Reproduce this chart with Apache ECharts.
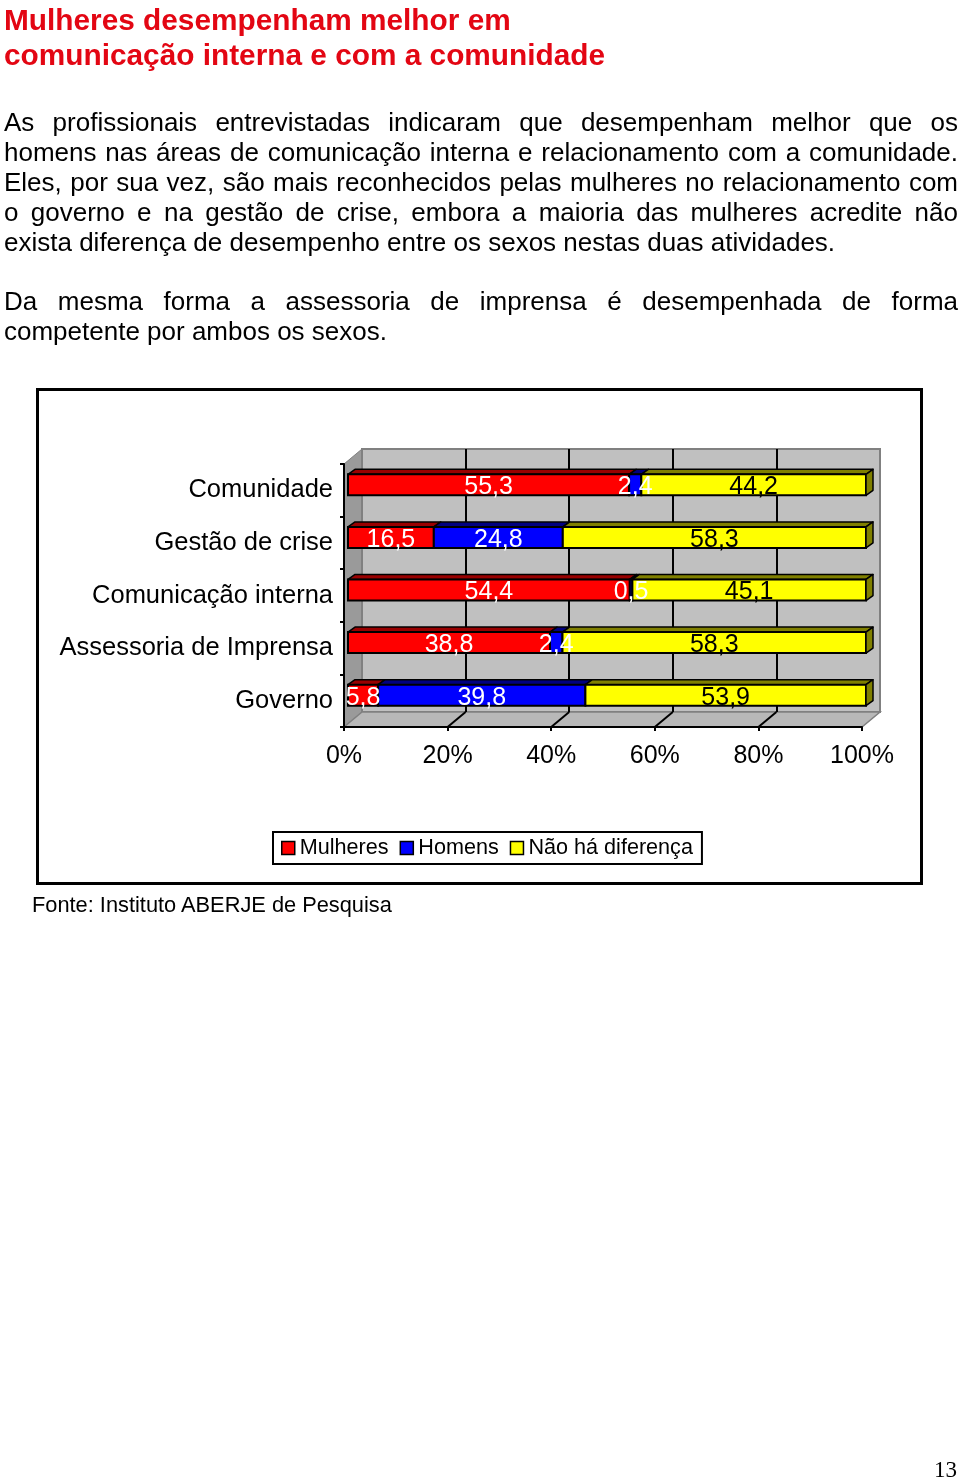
<!DOCTYPE html>
<html>
<head>
<meta charset="utf-8">
<script src="https://cdn.jsdelivr.net/npm/echarts@6/dist/echarts.min.js"></script>
<style>
  html, body { margin:0; padding:0; background:#fff; }
  body { width:960px; height:1481px; position:relative; overflow:hidden; font-family:'Liberation Sans', Arial, sans-serif; }
  #chart { position:absolute; left:0; top:0; width:960px; height:1481px; z-index:0; }
  .txt { position:absolute; z-index:1; pointer-events:none; }
  .title { left:4px; top:2px; font-size:29.8px; font-weight:bold; color:#e30613; line-height:35px; white-space:nowrap; }
  .para { left:4px; width:954px; font-size:26px; line-height:30px; color:#000; }
  .para div { white-space:nowrap; }
  .j { text-align:justify; text-align-last:justify; }
  .src { left:32px; top:892px; font-size:21.8px; line-height:26px; white-space:nowrap; }
  .pg { right:3px; top:1457px; font-family:'Liberation Serif','Times New Roman',serif; font-size:23px; line-height:26px; }
</style>
</head>
<body>
<div id="chart"></div>
<div class="txt title">Mulheres desempenham melhor em<br>comunicação interna e com a comunidade</div>
<div class="txt para" style="top:107px">
  <div class="j">As profissionais entrevistadas indicaram que desempenham melhor que os</div>
  <div class="j">homens nas áreas de comunicação interna e relacionamento com a comunidade.</div>
  <div class="j">Eles, por sua vez, são mais reconhecidos pelas mulheres no relacionamento com</div>
  <div class="j">o governo e na gestão de crise, embora a maioria das mulheres acredite não</div>
  <div>exista diferença de desempenho entre os sexos nestas duas atividades.</div>
</div>
<div class="txt para" style="top:286px">
  <div class="j">Da mesma forma a assessoria de imprensa é desempenhada de forma</div>
  <div>competente por ambos os sexos.</div>
</div>
<div class="txt src">Fonte: Instituto ABERJE de Pesquisa</div>
<div class="txt pg">13</div>
<script>
// ---- data ----
const categories = ['Comunidade', 'Gestão de crise', 'Comunicação interna', 'Assessoria de Imprensa', 'Governo'];
const mulheres = [55.3, 16.5, 54.4, 38.8, 5.8];
const homens   = [2.4, 24.8, 0.5, 2.4, 39.8];
const naoHa    = [44.2, 58.3, 45.1, 58.3, 53.9];
const seriesNames = ['Mulheres', 'Homens', 'Não há diferença'];
const xTickLabels = ['0%', '20%', '40%', '60%', '80%', '100%'];

// ---- layout / style ----
const FONT = "'Liberation Sans', Arial, sans-serif";
const FX = 344, FY = 464, W = 518, H = 263;     // front plane
const BDX = 18, BDY = -15;                        // back wall offset
const BAR_OX = 4, BAR_OY = -5.5;                  // bar plane offset
const DDX = 7, DDY = -5;                          // bar depth
const colors = ['#ff0000', '#0000ff', '#ffff00'];
const topColors = ['#990000', '#000080', '#808000'];
const labelColors = ['#ffffff', '#ffffff', '#000000'];

const raw = [mulheres, homens, naoHa];
const totals = categories.map((c, i) => raw.reduce((s, arr) => s + arr[i], 0));

function fmt(v) { return v.toFixed(1).replace('.', ','); }

function buildData(k) {
  return categories.map((c, i) => {
    let start = 0;
    for (let j = 0; j < k; j++) start += raw[j][i] / totals[i] * 100;
    const end = start + raw[k][i] / totals[i] * 100;
    return [start, end, i, raw[k][i]];
  });
}

function makeSeries(k) {
  return {
    type: 'custom',
    name: seriesNames[k],
    xAxisIndex: 2, yAxisIndex: 2,
    itemStyle: { color: colors[k], borderColor: '#000', borderWidth: 1.5 },
    encode: { x: [0, 1], y: 2 },
    data: buildData(k),
    z: 5,
    renderItem: function (params, api) {
      const p0 = api.coord([api.value(0), api.value(2)]);
      const p1 = api.coord([api.value(1), api.value(2)]);
      const band = api.size([0, 1])[1];
      const bh = band * 0.4;
      const left = p0[0], right = p1[0];
      const top = p0[1] - bh / 2, bottom = top + bh;
      const children = [
        { type: 'polygon', shape: { points: [[left, top], [left + DDX, top + DDY], [right + DDX, top + DDY], [right, top]] },
          style: { fill: topColors[k], stroke: '#000', lineWidth: 1.5, lineJoin: 'round' } },
        { type: 'rect', shape: { x: left, y: top, width: right - left, height: bh },
          style: { fill: colors[k], stroke: '#000', lineWidth: 2 } }
      ];
      if (k === 2) {
        children.push({ type: 'polygon', shape: { points: [[right, top], [right + DDX, top + DDY], [right + DDX, bottom + DDY], [right, bottom]] },
          style: { fill: topColors[k], stroke: '#000', lineWidth: 1.5, lineJoin: 'round' } });
      }
      children.push({ type: 'text', z2: 10, style: { text: fmt(api.value(3)), x: (left + right) / 2, y: (top + bottom) / 2 + 2.5,
        align: 'center', verticalAlign: 'middle', fill: labelColors[k], font: '25px ' + FONT } });
      return { type: 'group', children: children };
    }
  };
}

// decoration: walls, floor, diagonals, border
const graphics = [];
graphics.push({ type: 'rect', shape: { x: 37.5, y: 389.5, width: 884, height: 494 }, style: { fill: 'none', stroke: '#000', lineWidth: 3 }, z: -2 });
graphics.push({ type: 'rect', shape: { x: FX + BDX, y: FY + BDY, width: W, height: H }, style: { fill: '#c0c0c0', stroke: '#808080', lineWidth: 2 }, z: -1 });
graphics.push({ type: 'polygon', shape: { points: [[FX, FY], [FX + BDX, FY + BDY], [FX + BDX, FY + H + BDY], [FX, FY + H]] }, style: { fill: '#9a9a9a', stroke: '#808080', lineWidth: 1 }, z: -1 });
graphics.push({ type: 'polygon', shape: { points: [[FX, FY + H], [FX + BDX, FY + H + BDY], [FX + W + BDX, FY + H + BDY], [FX + W, FY + H]] }, style: { fill: '#b8b8b8', stroke: '#808080', lineWidth: 1.5 }, z: -1 });
[20, 40, 60, 80].forEach(v => {
  const x = FX + W * v / 100;
  graphics.push({ type: 'line', shape: { x1: x, y1: FY + H, x2: x + BDX, y2: FY + H + BDY }, style: { stroke: '#000', lineWidth: 2 }, z: 0 });
});

const chart = echarts.init(document.getElementById('chart'), null, { renderer: 'canvas' });
chart.setOption({
  animation: false,
  backgroundColor: 'transparent',
  textStyle: { fontFamily: FONT },
  graphic: graphics,
  grid: [
    { left: FX, top: FY, width: W, height: H },
    { left: FX + BDX, top: FY + BDY, width: W, height: H },
    { left: FX + BAR_OX, top: FY + BAR_OY, width: W, height: H }
  ],
  xAxis: [
    { gridIndex: 0, type: 'value', min: 0, max: 100, interval: 20,
      axisLine: { show: true, lineStyle: { color: '#000', width: 2 } },
      axisTick: { show: true, length: 4, lineStyle: { color: '#000', width: 2 } },
      splitLine: { show: false },
      axisLabel: { margin: 17, color: '#000', fontSize: 25, fontFamily: FONT,
        formatter: (v) => xTickLabels[Math.round(v / 20)] } },
    { gridIndex: 1, type: 'value', min: 0, max: 100, interval: 20,
      axisLine: { show: false }, axisTick: { show: false }, axisLabel: { show: false },
      splitLine: { show: true, lineStyle: { color: ['#808080', '#000', '#000', '#000', '#000', '#808080'], width: 2 } } },
    { gridIndex: 2, type: 'value', min: 0, max: 100, show: false }
  ],
  yAxis: [
    { gridIndex: 0, type: 'category', data: categories, inverse: true,
      axisLine: { show: true, lineStyle: { color: '#000', width: 2 } },
      axisTick: { show: true, length: 4, lineStyle: { color: '#000', width: 2 } },
      axisLabel: { margin: 11, color: '#000', fontSize: 25.5, fontFamily: FONT, padding: [6, 0, 0, 0] } },
    { gridIndex: 1, type: 'category', data: categories, inverse: true, show: false },
    { gridIndex: 2, type: 'category', data: categories, inverse: true, show: false }
  ],
  legend: {
    left: 273, top: 832,
    data: seriesNames,
    orient: 'horizontal',
    padding: [5, 9, 5, 8],
    itemGap: 11, itemWidth: 13, itemHeight: 13,
    icon: 'rect',
    borderColor: '#000', borderWidth: 2,
    itemStyle: { borderColor: '#000', borderWidth: 1.5 },
    textStyle: { color: '#000', fontSize: 21.6, fontFamily: FONT, padding: [0, 0, 0, 0] }
  },
  series: [makeSeries(0), makeSeries(1), makeSeries(2)]
});
</script>
</body>
</html>
